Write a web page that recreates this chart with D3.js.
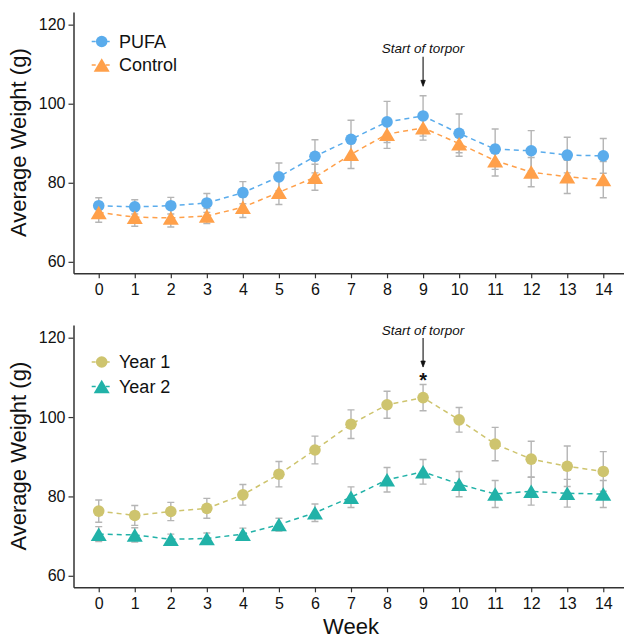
<!DOCTYPE html>
<html>
<head>
<meta charset="utf-8">
<script src="https://cdn.jsdelivr.net/npm/d3@7"></script>
<style>
  body { margin: 0; background: #fff; }
  svg { display: block; font-family: "Liberation Sans", Arial, sans-serif; }
</style>
</head>
<body>
<div id="chart"></div>
<script>
// data (mean weight and SE per week)
const weeks = [0, 1, 2, 3, 4, 5, 6, 7, 8, 9, 10, 11, 12, 13, 14];
const y_ticks = [60, 80, 100, 120];

const pufa_mean = [74.2, 73.9, 74.2, 74.9, 77.5, 81.5, 86.7, 91.0, 95.4, 96.9, 92.5, 88.5, 88.1, 87.0, 86.8];
const pufa_se = [2.0, 1.8, 2.1, 2.4, 2.8, 3.5, 4.2, 4.8, 5.2, 5.1, 4.9, 5.1, 5.1, 4.5, 4.4];
const control_mean = [72.5, 71.3, 71.1, 71.6, 73.8, 77.6, 81.4, 87.2, 92.3, 93.9, 89.9, 85.6, 82.7, 81.5, 80.8];
const control_se = [2.5, 2.3, 2.3, 1.9, 2.6, 3.1, 3.3, 3.6, 3.6, 3.1, 3.2, 3.9, 3.7, 4.2, 4.6];

const year1_mean = [76.3, 75.2, 76.2, 77.0, 80.4, 85.6, 91.7, 98.2, 103.1, 104.9, 99.3, 93.2, 89.4, 87.6, 86.3];
const year1_se = [2.8, 2.5, 2.3, 2.5, 2.6, 3.2, 3.5, 3.6, 3.4, 3.3, 3.1, 4.2, 4.5, 5.1, 5.0];
const year2_mean = [70.5, 70.3, 69.2, 69.4, 70.5, 72.9, 75.9, 79.8, 84.2, 86.2, 83.1, 80.6, 81.3, 80.8, 80.6];
const year2_se = [1.9, 1.8, 1.3, 1.4, 1.5, 1.6, 2.2, 2.6, 3.1, 3.1, 3.2, 3.4, 3.5, 3.5, 3.4];

const width = 624;
const height = 638;
const x_domain = [-0.7, 14.7];
const y_domain = [57.1, 123.2];

/**
 * build a triangle path centred on its bounding box
 */
function triangle_path(w, h) {
  return d3.line()([[0, -h / 2], [w / 2, h / 2], [-w / 2, h / 2]]) + "Z";
}

/**
 * one panel: axes, error bars, dashed lines, points, legend, annotation
 */
function draw_panel(svg, panel) {
  const x = d3.scaleLinear().domain(x_domain).range([73.5, 628.5]);
  const y = d3.scaleLinear().domain(y_domain).range([panel.bottom, panel.top]);

  const g = svg.append("g");

  // axes
  const y_axis = g.append("g")
    .attr("transform", `translate(${x.range()[0]},0)`)
    .call(d3.axisLeft(y).tickValues(y_ticks).tickSize(5).tickSizeOuter(0).tickPadding(3));
  const x_axis = g.append("g")
    .attr("transform", `translate(0,${panel.bottom})`)
    .call(d3.axisBottom(x).tickValues(weeks).tickSize(5).tickSizeOuter(0).tickPadding(5));
  for (const ax of [y_axis, x_axis]) {
    ax.attr("font-size", 16).attr("font-family", null);
    ax.select(".domain").attr("stroke", "#333").attr("stroke-width", 1.5);
    ax.selectAll(".tick line").attr("stroke", "#333").attr("stroke-width", 1.2);
    ax.selectAll(".tick text").attr("fill", "#111");
  }

  // y axis title
  g.append("text")
    .attr("transform", `translate(26,${(panel.top + panel.bottom) / 2}) rotate(-90)`)
    .attr("text-anchor", "middle")
    .attr("font-size", 22)
    .attr("fill", "#111")
    .text("Average Weight (g)");

  const series = panel.series.map(s => ({
    ...s,
    points: weeks.map((w, i) => ({ week: w, mean: s.mean[i], se: s.se[i] }))
  }));

  // dashed lines
  const line = d3.line().x(d => x(d.week)).y(d => y(d.mean));
  g.append("g")
    .selectAll("path")
    .data(series)
    .enter()
    .append("path")
    .attr("d", s => line(s.points))
    .attr("fill", "none")
    .attr("stroke", s => s.color)
    .attr("stroke-width", 1.5)
    .attr("stroke-dasharray", "5,4");

  // error bars
  const cap = 3.5;
  const err = g.append("g")
    .attr("stroke", "#b5b5b5")
    .attr("stroke-width", 1.4)
    .attr("fill", "none");
  for (const s of series) {
    err.append("g")
      .selectAll("path")
      .data(s.points)
      .enter()
      .append("path")
      .attr("d", d => {
        const cx = x(d.week);
        const y1 = y(d.mean + d.se);
        const y2 = y(d.mean - d.se);
        return `M${cx - cap},${y1}H${cx + cap}M${cx},${y1}V${y2}M${cx - cap},${y2}H${cx + cap}`;
      });
  }

  // points
  for (const s of series) {
    draw_marks(g.append("g"), s, s.points.map(d => [x(d.week), y(d.mean)]));
  }

  // legend
  const legend = g.append("g");
  series.forEach((s, i) => {
    const ly = panel.legend_y[i];
    legend.append("line")
      .attr("x1", 91.7).attr("x2", 112.3)
      .attr("y1", ly).attr("y2", ly)
      .attr("stroke", s.color)
      .attr("stroke-width", 1.5)
      .attr("stroke-dasharray", "4,3");
    draw_marks(legend.append("g"), s, [[101.7, ly]]);
    legend.append("text")
      .attr("x", 119)
      .attr("y", ly)
      .attr("dy", "0.35em")
      .attr("font-size", 18)
      .attr("fill", "#111")
      .text(s.name);
  });

  // start of torpor annotation
  const ax9 = x(9);
  g.append("text")
    .attr("x", ax9)
    .attr("y", y(panel.note_y))
    .attr("text-anchor", "middle")
    .attr("font-size", 13.5)
    .attr("font-style", "italic")
    .attr("fill", "#111")
    .text("Start of torpor");
  const y_tip = y(panel.arrow[1]);
  g.append("line")
    .attr("x1", ax9).attr("x2", ax9)
    .attr("y1", y(panel.arrow[0])).attr("y2", y_tip - 2)
    .attr("stroke", "#111")
    .attr("stroke-width", 1.1);
  g.append("path")
    .attr("d", `M${ax9 - 2.2},${y_tip - 6}L${ax9},${y_tip}L${ax9 + 2.2},${y_tip - 6}Z`)
    .attr("fill", "#111")
    .attr("stroke", "#111")
    .attr("stroke-width", 0.8);

  if (panel.star_y != null) {
    g.append("text")
      .attr("x", ax9)
      .attr("y", y(panel.star_y))
      .attr("text-anchor", "middle")
      .attr("font-size", 20)
      .attr("font-weight", "bold")
      .attr("fill", "#111")
      .text("*");
  }
}

/**
 * circles or triangles at the given pixel positions
 */
function draw_marks(g, s, pts) {
  if (s.shape == "circle") {
    g.selectAll("circle")
      .data(pts)
      .enter()
      .append("circle")
      .attr("cx", d => d[0])
      .attr("cy", d => d[1])
      .attr("r", 5.8)
      .attr("fill", s.color);
  } else {
    g.selectAll("path")
      .data(pts)
      .enter()
      .append("path")
      .attr("transform", d => `translate(${d[0]},${d[1]})`)
      .attr("d", triangle_path(16, 13.5))
      .attr("fill", s.color);
  }
}

const svg = d3.select("#chart")
  .append("svg")
  .attr("width", width)
  .attr("height", height);

draw_panel(svg, {
  top: 12,
  bottom: 273.3,
  legend_y: [41.5, 65],
  note_y: 112.8,
  arrow: [111.9, 104.4],
  star_y: null,
  series: [
    { name: "PUFA", mean: pufa_mean, se: pufa_se, color: "#5aacec", shape: "circle" },
    { name: "Control", mean: control_mean, se: control_se, color: "#ffa04a", shape: "triangle" }
  ]
});

draw_panel(svg, {
  top: 325,
  bottom: 587.3,
  legend_y: [362, 386.5],
  note_y: 120.7,
  arrow: [119.9, 112.6],
  star_y: 107.6,
  series: [
    { name: "Year 1", mean: year1_mean, se: year1_se, color: "#cec46e", shape: "circle" },
    { name: "Year 2", mean: year2_mean, se: year2_se, color: "#21b2a8", shape: "triangle" }
  ]
});

// shared x axis title
svg.append("text")
  .attr("x", 351)
  .attr("y", 634)
  .attr("text-anchor", "middle")
  .attr("font-size", 22)
  .attr("fill", "#111")
  .text("Week");
</script>
</body>
</html>
